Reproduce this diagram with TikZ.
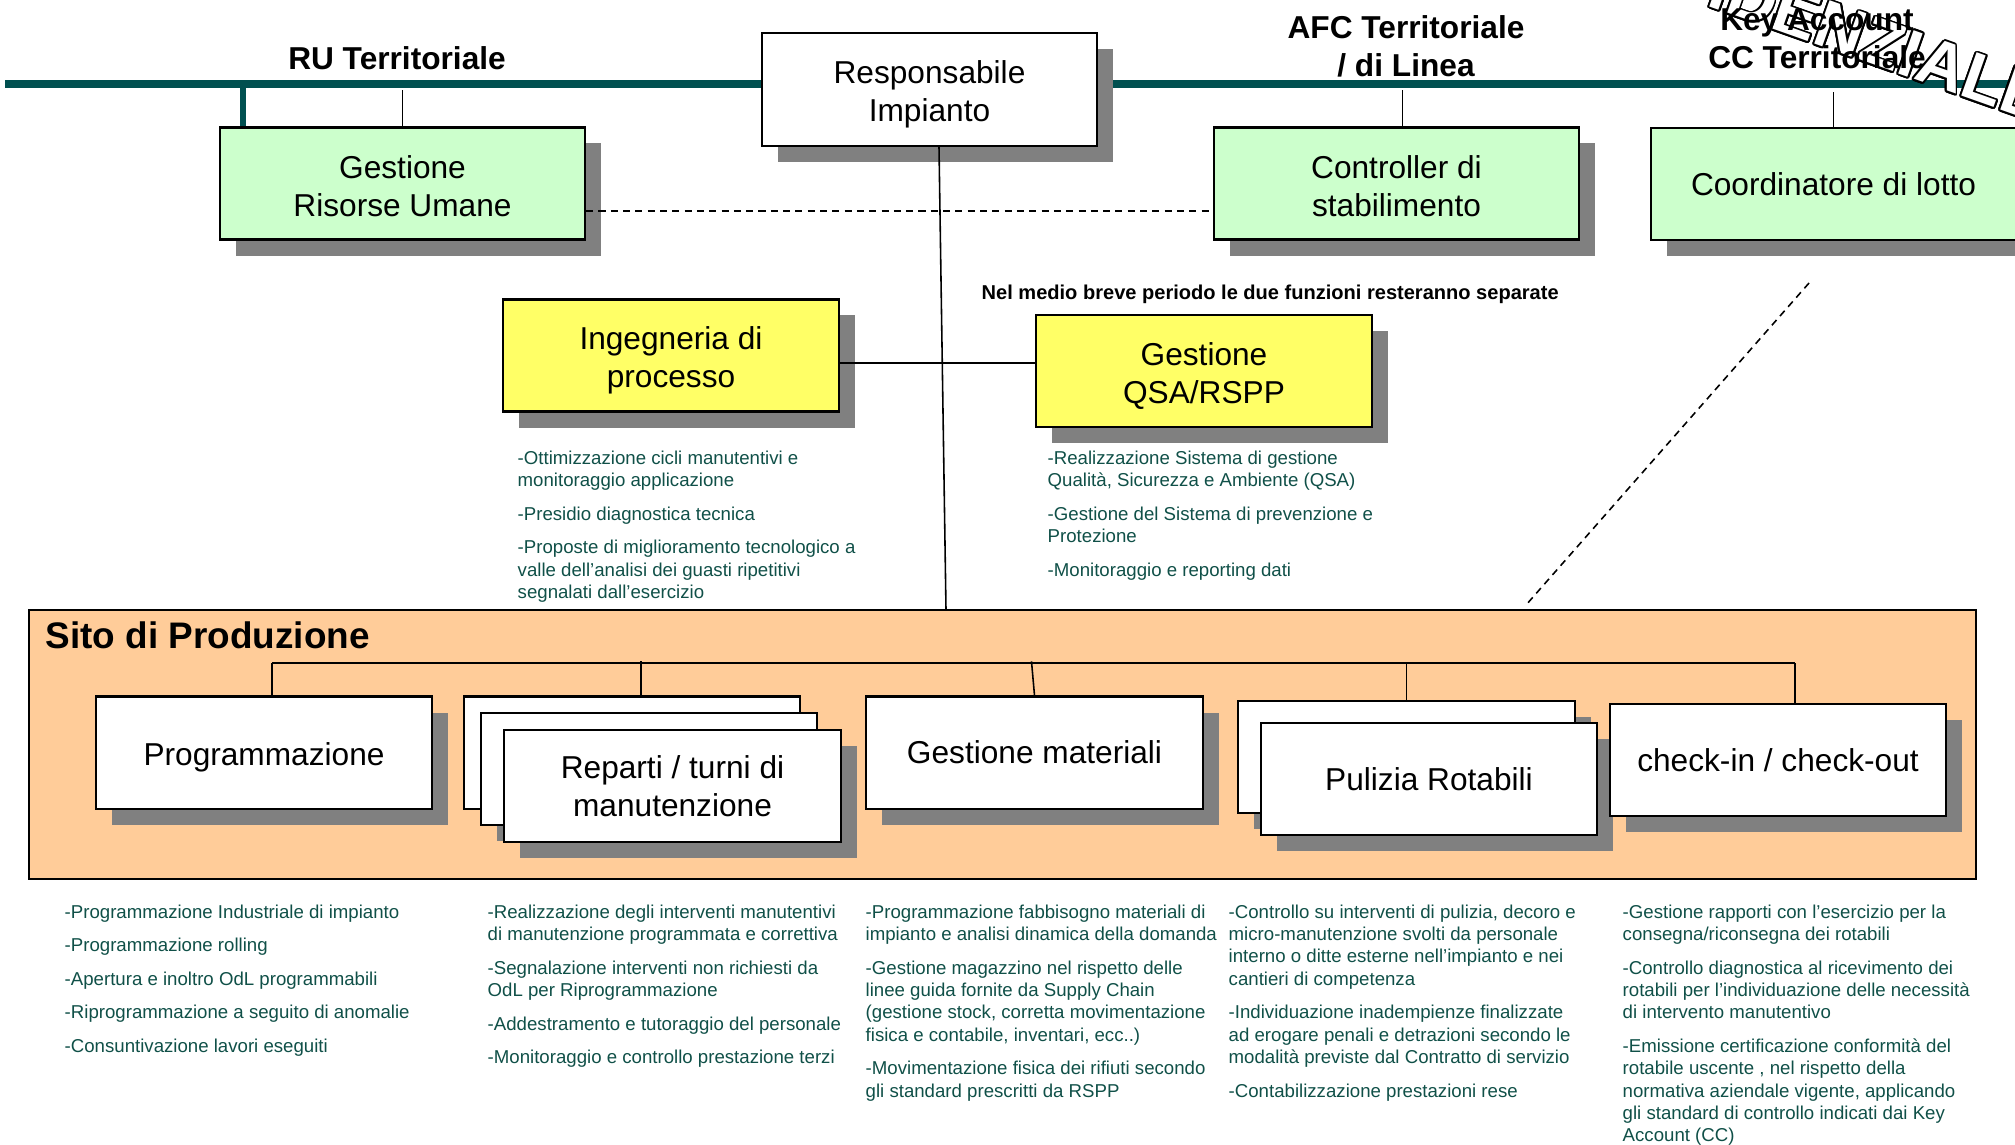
\documentclass[tikz,border=0pt]{standalone}
\usepackage{fontspec}
\setmainfont{Liberation Sans}
\usepackage{contour}
\usetikzlibrary{shadows,calc}
\definecolor{boxgreen}{RGB}{204,255,204}
\definecolor{boxyellow}{RGB}{255,255,102}
\definecolor{sitopeach}{RGB}{255,204,153}
\definecolor{linkteal}{RGB}{0,80,80}
\definecolor{desctext}{RGB}{16,80,72}
\definecolor{shadowgray}{RGB}{128,128,128}
\contourlength{0.5pt}
\contournumber{20}
\newcommand{\lblstrut}[1][9.2pt]{\rule{0pt}{#1}}
\tikzstyle{every node}=[font=\fontsize{9}{10.8}\selectfont]
\tikzstyle{orgbox}=[draw, line width=0.6pt, align=center, inner sep=0pt, minimum width=3.36cm, minimum height=1.12cm, drop shadow={shadow xshift=0.16cm, shadow yshift=-0.16cm, fill=shadowgray, opacity=1}]
\tikzstyle{staffbox}=[orgbox, fill=boxgreen, minimum width=3.65cm]
\tikzstyle{qsabox}=[orgbox, fill=boxyellow]
\tikzstyle{unitbox}=[orgbox, fill=white]
\tikzstyle{heading}=[font=\fontsize{9}{10.8}\selectfont\bfseries, align=center, inner sep=0pt]
\tikzstyle{desc}=[font=\fontsize{5.3}{6.35}\selectfont, text=desctext, align=left, anchor=north west, inner sep=0pt]
\tikzstyle{link}=[line width=0.45pt]
\tikzstyle{topline}=[line width=2.3pt, draw=linkteal]
\tikzstyle{dashlink}=[line width=0.45pt, dash pattern=on 2pt off 1.5pt]

\begin{document}
\begin{tikzpicture}[x=0.01cm,y=-0.01cm]
\useasboundingbox (0,0) rectangle (2015,1144);

\coordinate (topL) at (5,84);
\coordinate (topR) at (2015,84);
\draw[topline] (topL) -- (topR);

\node[rotate=-19.5, text=white, inner sep=0pt, font=\fontsize{19}{22}\selectfont\bfseries] (stamp) at (1790,12) {\contour{black}{CONFIDENZIALE}};

\node[heading] (ruterr) at (397,58) {RU Territoriale};
\node[heading] (afcterr) at (1406,46) {AFC Territoriale\\/ di Linea};
\node[heading] (keyacc) at (1817,38.5) {Key Account\\CC Territoriale};

\node[unitbox, minimum width=3.35cm, minimum height=1.13cm] (resp) at (929.5,89.5) {\lblstrut Responsabile\\Impianto};
\node[staffbox] (ru) at (402.5,183.5) {\lblstrut[7.9pt]Gestione\\Risorse Umane};
\node[staffbox] (ctrl) at (1396.5,183.5) {\lblstrut[7.9pt]Controller di\\stabilimento};
\node[staffbox] (coord) at (1833.5,184) {Coordinatore di lotto};
\node[qsabox] (ing) at (671,355.5) {\lblstrut Ingegneria di\\processo};
\node[qsabox] (qsa) at (1204,371) {\lblstrut Gestione\\QSA/RSPP};

\draw[topline, line width=1.6pt] ($(ru.north west)+(24,0)$) -- ++(0,-43);
\draw[link] (ru.north) -- ++(0,-36);
\draw[link] ($(ctrl.north)+(6,0)$) -- ++(0,-36);
\draw[link] (coord.north) -- ++(0,-35);
\draw[dashlink] ($(ru.east)+(0,27.5)$) -- ($(ctrl.west)+(0,27.5)$);
\coordinate (respdrop) at (946,610);
\draw[link] ($(resp.south)+(9.5,0)$) -- (respdrop);
\draw[link] ($(ing.east)+(0,7.5)$) -- ($(qsa.west)+(0,-8)$);

\node[font=\fontsize{5.7}{6.8}\selectfont\bfseries, anchor=west, inner sep=0pt] (note) at (981,294) {Nel medio breve periodo le due funzioni resteranno separate};

\coordinate (lottoA) at (1809,283);
\coordinate (lottoB) at (1526,605);
\draw[dashlink] (lottoA) -- (lottoB);

\node[desc] (ingdesc) at (517,450) {-Ottimizzazione cicli manutentivi e\\monitoraggio applicazione\\[3.2pt]-Presidio diagnostica tecnica\\[3.2pt]-Proposte di miglioramento tecnologico a\\valle dell’analisi dei guasti ripetitivi\\segnalati dall’esercizio};
\node[desc] (qsadesc) at (1047,450) {-Realizzazione Sistema di gestione\\Qualità, Sicurezza e Ambiente (QSA)\\[3.2pt]-Gestione del Sistema di prevenzione e\\Protezione\\[3.2pt]-Monitoraggio e reporting dati};

\node[draw, fill=sitopeach, line width=0.6pt, inner sep=0pt, minimum width=19.45cm, minimum height=2.69cm] (sito) at (1002.5,744.5) {};
\node[font=\fontsize{10.5}{12.6}\selectfont\bfseries, anchor=west, inner sep=0pt] (sitolbl) at (45,635) {Sito di Produzione};

\node[unitbox] (prog) at (264,752.5) {\lblstrut Programmazione};
\node[unitbox] (rep1) at (632,752.5) {};
\node[unitbox] (rep2) at (649,769) {};
\node[unitbox] (rep3) at (672.5,786) {Reparti / turni di\\manutenzione};
\node[unitbox] (mat) at (1034.5,752.5) {Gestione materiali};
\node[unitbox] (pul1) at (1406.5,757) {};
\node[unitbox] (pul2) at (1429,779) {Pulizia Rotabili};
\node[unitbox] (chk) at (1778,760) {check-in / check-out};

\coordinate (busL) at (272,663);
\coordinate (busR) at (1795,663);
\draw[link, line width=0.8pt] (busL) -- (busR);
\draw[link] (busL) -- (prog.north -| busL);
\draw[link] (busR) -- (chk.north -| busR);
\draw[link] ($(rep1.north)+(9,0)$) -- ++(0,-34);
\draw[link] (mat.north) -- ++(-3,-34);
\draw[link] (pul1.north) -- ++(0,-38);

\node[desc] (progdesc) at (64,904) {-Programmazione Industriale di impianto\\[3.2pt]-Programmazione rolling\\[3.2pt]-Apertura e inoltro OdL programmabili\\[3.2pt]-Riprogrammazione a seguito di anomalie\\[3.2pt]-Consuntivazione lavori eseguiti};
\node[desc] (repdesc) at (487,904) {-Realizzazione degli interventi manutentivi\\di manutenzione programmata e correttiva\\[3.2pt]-Segnalazione interventi non richiesti da\\OdL per Riprogrammazione\\[3.2pt]-Addestramento e tutoraggio del personale\\[3.2pt]-Monitoraggio e controllo prestazione terzi};
\node[desc] (matdesc) at (865,904) {-Programmazione fabbisogno materiali di\\impianto e analisi dinamica della domanda\\[3.2pt]-Gestione magazzino nel rispetto delle\\linee guida fornite da Supply Chain\\(gestione stock, corretta movimentazione\\fisica e contabile, inventari, ecc..)\\[3.2pt]-Movimentazione fisica dei rifiuti secondo\\gli standard prescritti da RSPP};
\node[desc] (puldesc) at (1228,904) {-Controllo su interventi di pulizia, decoro e\\micro-manutenzione svolti da personale\\interno o ditte esterne nell’impianto e nei\\cantieri di competenza\\[3.2pt]-Individuazione inadempienze finalizzate\\ad erogare penali e detrazioni secondo le\\modalità previste dal Contratto di servizio\\[3.2pt]-Contabilizzazione prestazioni rese};
\node[desc] (chkdesc) at (1622,904) {-Gestione rapporti con l’esercizio per la\\consegna/riconsegna dei rotabili\\[3.2pt]-Controllo diagnostica al ricevimento dei\\rotabili per l’individuazione delle necessità\\di intervento manutentivo\\[3.2pt]-Emissione certificazione conformità del\\rotabile uscente , nel rispetto della\\normativa aziendale  vigente, applicando\\gli standard di controllo indicati dai Key\\Account (CC)};
\end{tikzpicture}
\end{document}
